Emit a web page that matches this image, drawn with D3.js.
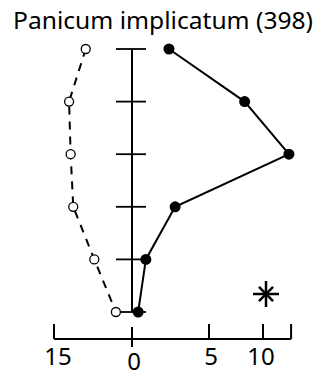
<!DOCTYPE html>
<html>
<head>
<meta charset="utf-8">
<script src="https://cdn.jsdelivr.net/npm/d3@7/dist/d3.min.js"></script>
<style>
  html, body { margin: 0; padding: 0; background: #fff; }
  svg { display: block; }
  text { font-family: "Noto Sans", "DejaVu Sans", sans-serif; fill: #000; }
</style>
</head>
<body>
<svg id="chart" width="323" height="377"></svg>
<script>
// Panicum implicatum (398): six levels, two profiles
const title = "Panicum implicatum (398)";
const levels = [1, 2, 3, 4, 5, 6];
const filledValues = [2.4, 8.3, 12.4, 2.8, 0.9, 0.4];   // right side, solid line
const openValues = [8.9, 12.1, 11.8, 11.3, 7.25, 3.1];  // left side, dashed line
const rightTicks = [0, 5, 10];
const leftTicks = [15];
const rightAxisEnd = 12.6;

const svg = d3.select("#chart");

const axisX = 132;
const y = d3.scalePoint().domain(levels).range([49, 312]);
const xRight = d3.scaleLinear().domain([0, 5, 10]).range([axisX, 209, 263]);
const xLeft = d3.scaleLinear().domain([0, 15]).range([axisX, 54]);

const baseY = 339;

// title
svg.append("text")
  .attr("x", 163).attr("y", 29)
  .attr("text-anchor", "middle")
  .attr("font-size", 24)
  .attr("textLength", 300)
  .attr("lengthAdjust", "spacingAndGlyphs")
  .text(title);

// central vertical axis with cross ticks
svg.append("line")
  .attr("x1", axisX).attr("x2", axisX)
  .attr("y1", y(levels[0])).attr("y2", y(levels[levels.length - 1]))
  .attr("stroke", "#000").attr("stroke-width", 2);

svg.append("g").selectAll("line")
  .data(levels)
  .join("line")
  .attr("x1", axisX - 16).attr("x2", axisX + 14)
  .attr("y1", d => y(d)).attr("y2", d => y(d))
  .attr("stroke", "#000").attr("stroke-width", 1.8);

// bottom axis
const bottom = svg.append("g");
bottom.append("line")
  .attr("x1", xLeft(15)).attr("x2", xRight(rightAxisEnd))
  .attr("y1", baseY).attr("y2", baseY)
  .attr("stroke", "#000").attr("stroke-width", 2);

const tickXs = [xLeft(15), xRight(5), xRight(10), xRight(rightAxisEnd)];
bottom.selectAll("line.tick")
  .data(tickXs)
  .join("line")
  .attr("class", "tick")
  .attr("x1", d => d).attr("x2", d => d)
  .attr("y1", baseY - 15).attr("y2", baseY)
  .attr("stroke", "#000").attr("stroke-width", 2);

bottom.append("line")
  .attr("x1", xRight(0)).attr("x2", xRight(0))
  .attr("y1", baseY - 12).attr("y2", baseY + 8)
  .attr("stroke", "#000").attr("stroke-width", 2);

const tickLabels = [
  ...leftTicks.map(v => ({ v, x: xLeft(v) + 4, dy: 0 })),
  ...rightTicks.map(v => ({ v, x: xRight(v) + (v === 10 ? -2 : 2), dy: v === 0 ? 5 : 0 }))
];
bottom.selectAll("text")
  .data(tickLabels)
  .join("text")
  .attr("x", d => d.x)
  .attr("y", d => 365 + d.dy)
  .attr("text-anchor", "middle")
  .attr("font-size", 24)
  .text(d => d.v);

// left profile: open circles, dashed
const openLine = d3.line()
  .x(d => xLeft(d))
  .y((d, i) => y(levels[i]));
svg.append("path")
  .attr("d", openLine(openValues))
  .attr("fill", "none")
  .attr("stroke", "#000")
  .attr("stroke-width", 2)
  .attr("stroke-dasharray", "8,7");

svg.append("g").selectAll("circle")
  .data(openValues)
  .join("circle")
  .attr("cx", d => xLeft(d))
  .attr("cy", (d, i) => y(levels[i]))
  .attr("r", 4.5)
  .attr("fill", "#fff")
  .attr("stroke", "#000")
  .attr("stroke-width", 1.3);

// right profile: filled circles, solid
const filledLine = d3.line()
  .x(d => xRight(d))
  .y((d, i) => y(levels[i]));
svg.append("path")
  .attr("d", filledLine(filledValues))
  .attr("fill", "none")
  .attr("stroke", "#000")
  .attr("stroke-width", 2);

svg.append("g").selectAll("circle")
  .data(filledValues)
  .join("circle")
  .attr("cx", d => xRight(d))
  .attr("cy", (d, i) => y(levels[i]))
  .attr("r", 5.5)
  .attr("fill", "#000");

// significance asterisk
const star = svg.append("g").attr("transform", "translate(266,294)");
[[0, 13], [45, 10], [90, 13], [135, 10]].forEach(([a, len]) => {
  star.append("line")
    .attr("x1", -len).attr("x2", len)
    .attr("y1", 0).attr("y2", 0)
    .attr("transform", `rotate(${a})`)
    .attr("stroke", "#000")
    .attr("stroke-width", 2.5);
});
</script>
</body>
</html>
